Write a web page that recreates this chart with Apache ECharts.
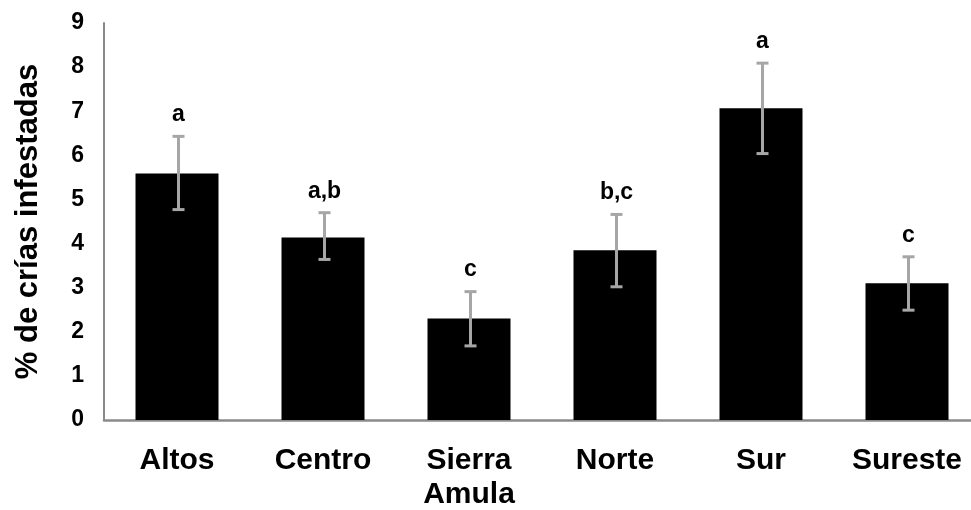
<!DOCTYPE html>
<html>
<head>
<meta charset="utf-8">
<script src="https://cdn.jsdelivr.net/npm/echarts@6/dist/echarts.min.js"></script>
<style>html,body{margin:0;padding:0;background:#fff}#c{width:971px;height:510px}</style>
</head>
<body>
<div id="c"></div>
<script>
var categories = ['Altos', 'Centro', 'Sierra\nAmula', 'Norte', 'Sur', 'Sureste'];
var means = [5.59, 4.14, 2.30, 3.85, 7.07, 3.10];
var errLow = [4.77, 3.64, 1.68, 3.02, 6.04, 2.49];
var errHigh = [6.43, 4.70, 2.91, 4.66, 8.09, 3.70];
var letters = ['a', 'a,b', 'c', 'b,c', 'a', 'c'];
var yTicks = [0, 1, 2, 3, 4, 5, 6, 7, 8, 9];

var FONT = 'Liberation Sans, Arial, sans-serif';
var chart = echarts.init(document.getElementById('c'), null, {renderer: 'canvas'});

var errData = categories.map(function (c, i) { return [i, errLow[i], errHigh[i], letters[i]]; });

chart.setOption({
  animation: false,
  backgroundColor: '#ffffff',
  grid: {left: 104, right: -9, top: 23, bottom: 90, containLabel: false, outerBoundsMode: 'none'},
  xAxis: {
    type: 'category',
    data: categories,
    axisLine: {show: true, lineStyle: {color: '#8a8a8a', width: 2.5}},
    axisTick: {show: false},
    axisLabel: {
      color: '#000', fontFamily: FONT, fontWeight: 'bold', fontSize: 30,
      margin: 24, lineHeight: 34, interval: 0
    }
  },
  yAxis: {
    type: 'value',
    min: yTicks[0], max: yTicks[yTicks.length - 1], interval: 1,
    name: '% de crías infestadas',
    nameLocation: 'middle',
    nameGap: 60,
    nameRotate: 90,
    nameTextStyle: {color: '#000', fontFamily: FONT, fontWeight: 'bold', fontSize: 31},
    axisLine: {show: true, lineStyle: {color: '#8a8a8a', width: 2}},
    axisTick: {show: false},
    splitLine: {show: false},
    axisLabel: {color: '#000', fontFamily: FONT, fontWeight: 'bold', fontSize: 23, margin: 20}
  },
  series: [
    {
      type: 'bar',
      data: means,
      barWidth: 83,
      itemStyle: {color: '#000000'},
      z: 2
    },
    {
      type: 'custom',
      data: errData,
      z: 3,
      renderItem: function (params, api) {
        var x = api.value(0);
        var lo = api.coord([x, api.value(1)]);
        var hi = api.coord([x, api.value(2)]);
        var cx = lo[0] + 1.5;
        var cap = 6;
        var style = {stroke: '#a6a6a6', lineWidth: 3};
        return {
          type: 'group',
          children: [
            {type: 'line', shape: {x1: cx, y1: lo[1], x2: cx, y2: hi[1]}, style: style},
            {type: 'line', shape: {x1: cx - cap, y1: lo[1], x2: cx + cap, y2: lo[1]}, style: style},
            {type: 'line', shape: {x1: cx - cap, y1: hi[1], x2: cx + cap, y2: hi[1]}, style: style},
            {type: 'text', style: {
              x: cx, y: hi[1] - 10, text: letters[params.dataIndex],
              textAlign: 'center', textVerticalAlign: 'bottom',
              fill: '#000', font: 'bold 23px ' + FONT
            }}
          ]
        };
      }
    }
  ]
});
</script>
</body>
</html>
